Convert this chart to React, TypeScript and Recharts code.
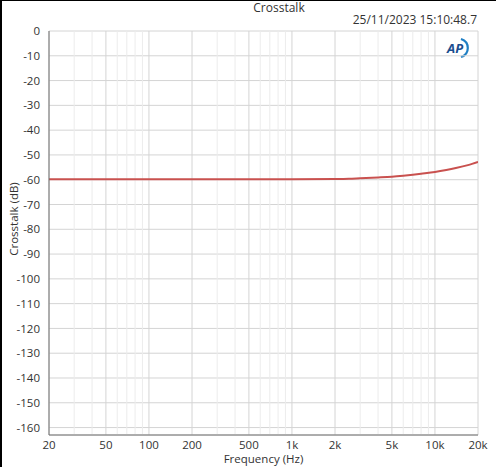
import React from 'react';
import { LineChart, Line, XAxis, YAxis, CartesianGrid, ReferenceLine } from 'recharts';

// measured crosstalk (dB) vs frequency (Hz)
const freqs = [20, 50, 100, 200, 500, 1000, 2000, 2500, 3000, 4000, 5000, 6000, 7000, 8000, 10000, 12000, 14000, 17000, 20000];
const crosstalk = [-59.8, -59.8, -59.8, -59.8, -59.8, -59.8, -59.7, -59.6, -59.4, -59.1, -58.8, -58.4, -58.0, -57.6, -56.9, -56.1, -55.3, -54.1, -52.8];

const majorTicks = [20, 50, 100, 200, 500, 1000, 2000, 5000, 10000, 20000];
const minorTicks = [30, 40, 60, 70, 80, 90, 300, 400, 600, 700, 800, 900, 3000, 4000, 6000, 7000, 8000, 9000];
const yTicks = [0, -10, -20, -30, -40, -50, -60, -70, -80, -90, -100, -110, -120, -130, -140, -150, -160];

const data = freqs.map((f, i) => ({ f, v: crosstalk[i] }));

const fmtHz = (v: number) => (v >= 1000 ? `${v / 1000}k` : `${v}`);

const FONT = '"Open Sans", "Noto Sans", sans-serif';
const FS = 11.5;
const tickStyle = { fontSize: FS, fill: '#333', fontFamily: FONT };

const XLabel = (props: any) => {
  const vb = props.viewBox || {};
  return (
    <text x={vb.x + vb.width / 2} y={vb.y + 28} textAnchor="middle" fontSize={FS} fill="#333" fontFamily={FONT}>
      Frequency (Hz)
    </text>
  );
};

const YLabel = (props: any) => {
  const vb = props.viewBox || {};
  const cx = vb.x + 11;
  const cy = vb.y + vb.height / 2 - 14;
  return (
    <text x={cx} y={cy} transform={`rotate(-90 ${cx} ${cy})`} textAnchor="middle" dominantBaseline="central" fontSize={FS} fill="#333" fontFamily={FONT}>
      Crosstalk (dB)
    </text>
  );
};

const App: React.FC = () => {
  return (
    <div style={{ position: 'relative', width: 494, height: 466, background: '#fff', borderLeft: '2px solid #000', borderTop: '1px solid #000' }}>
      <style>{`body{margin:0}`}</style>
      <div style={{ position: 'absolute', top: 0, left: 0, width: 494, textAlign: 'center', fontFamily: FONT, fontSize: 12, color: '#333', lineHeight: '14px', paddingLeft: 30 }}>
        Crosstalk
      </div>
      <div style={{ position: 'absolute', top: 12, right: 19, fontFamily: FONT, fontSize: 12, color: '#333', lineHeight: '14px' }}>
        25/11/2023 15:10:48.7
      </div>
      <svg style={{ position: 'absolute', top: 36, left: 442 }} width="30" height="22">
        <path d="M17 2 A10 9.5 0 0 1 17 20" fill="none" stroke="#1f7fc4" strokeWidth="2.2" />
        <text x="3" y="16" fontFamily={FONT} fontSize="13" fontWeight="bold" fontStyle="italic" fill="#1b4e8f">AP</text>
      </svg>
      <LineChart width={494} height={466} data={data} margin={{ top: 30, right: 18, bottom: 0, left: 0 }}>
        <CartesianGrid stroke="#d4d4d4" strokeWidth={1} />
        {minorTicks.map((m) => (
          <ReferenceLine key={m} x={m} stroke="#ececec" ifOverflow="hidden" />
        ))}
        <XAxis
          dataKey="f"
          type="number"
          scale="log"
          domain={[20, 20000]}
          ticks={majorTicks}
          tickFormatter={fmtHz}
          tick={tickStyle}
          tickLine={false}
          axisLine={{ stroke: '#707070' }}
          height={32}
          tickMargin={0}
          interval={0}
          allowDataOverflow
          label={<XLabel />}
        />
        <XAxis xAxisId="top" orientation="top" dataKey="f" type="number" scale="log" domain={[20, 20000]} height={0} tick={false} tickLine={false} axisLine={{ stroke: '#707070' }} />
        <YAxis
          type="number"
          domain={[-163, 0]}
          ticks={yTicks}
          tick={tickStyle}
          tickLine={false}
          axisLine={{ stroke: '#707070' }}
          width={47}
          tickMargin={3}
          interval={0}
          allowDataOverflow
          label={<YLabel />}
        />
        <YAxis yAxisId="right" orientation="right" width={0} tick={false} tickLine={false} axisLine={{ stroke: '#707070' }} domain={[-163, 0]} />
        <Line type="monotone" dataKey="v" stroke="#c9514f" strokeWidth={2} dot={false} isAnimationActive={false} />
      </LineChart>
    </div>
  );
};

export default App;
